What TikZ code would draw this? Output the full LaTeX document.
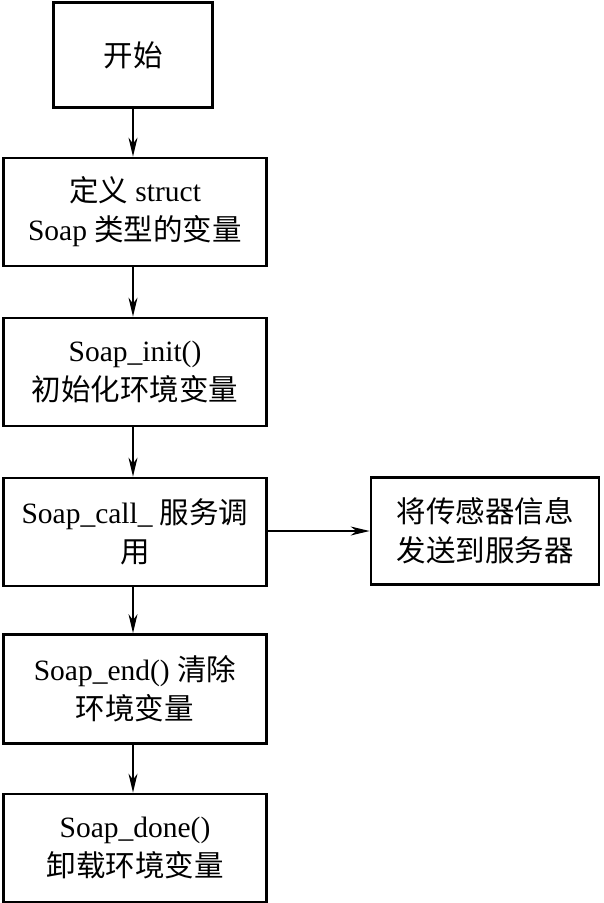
\documentclass[tikz,border=0pt]{standalone}
\usepackage{fontspec}
\setmainfont{Liberation Serif}
\newfontfamily\cjk{Noto Sans CJK SC}
\usetikzlibrary{arrows.meta}
\begin{document}
\begin{tikzpicture}[x=1pt,y=-1pt,
  box/.style={draw,line width=2.8pt,align=center,inner sep=0pt,
    font=\fontsize{29.5}{39}\selectfont},
  conn/.style={line width=1.2pt,-{Stealth[length=19pt,width=9pt,inset=6pt]}}]
\useasboundingbox (0,0) rectangle (603,903);
\node[box,minimum width=159pt,minimum height=105pt] (start) at (133,55) {{\cjk 开始}};
\node[box,minimum width=263pt,minimum height=108pt] (def) at (135,212) {{\cjk 定义} struct\\Soap {\cjk 类型的变量}};
\node[box,minimum width=263pt,minimum height=108pt] (init) at (135,372) {Soap\_init()\\{\cjk 初始化环境变量}};
\node[box,minimum width=263pt,minimum height=108pt] (call) at (135,532) {Soap\_call\_ {\cjk 服务调}\\{\cjk 用}};
\node[box,minimum width=228pt,minimum height=107pt] (send) at (485,531) {{\cjk 将传感器信息}\\{\cjk 发送到服务器}};
\node[box,minimum width=263pt,minimum height=109pt] (end) at (135,689) {Soap\_end() {\cjk 清除}\\{\cjk 环境变量}};
\node[box,minimum width=263pt,minimum height=108pt] (done) at (135,848) {Soap\_done()\\{\cjk 卸载环境变量}};
\draw[conn] (start.south) -- (start.south |- def.north);
\draw[conn] (start.south |- def.south) -- (start.south |- init.north);
\draw[conn] (start.south |- init.south) -- (start.south |- call.north);
\draw[conn] (start.south |- call.south) -- (start.south |- end.north);
\draw[conn] (start.south |- end.south) -- (start.south |- done.north);
\draw[conn] (call.east |- send.west) -- (send.west);
\end{tikzpicture}
\end{document}
